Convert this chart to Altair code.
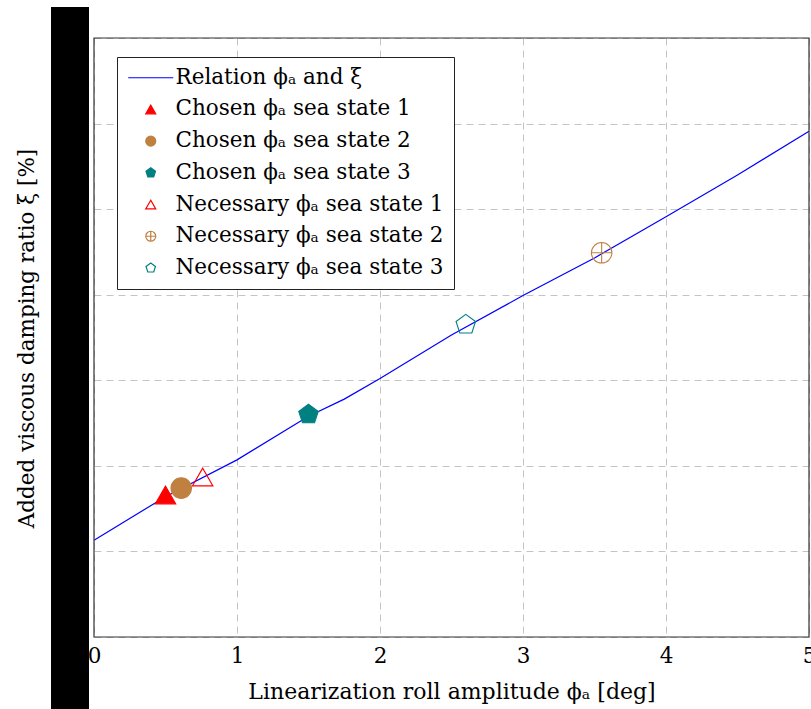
import altair as alt
import pandas as pd

# ---- data ----
series_names = [
    "Relation ϕₐ and ξ",
    "Chosen ϕₐ sea state 1",
    "Chosen ϕₐ sea state 2",
    "Chosen ϕₐ sea state 3",
    "Necessary ϕₐ sea state 1",
    "Necessary ϕₐ sea state 2",
    "Necessary ϕₐ sea state 3",
]
series_colors = ["#0000ff", "#ff0000", "#bf8040", "#008080", "#ff0000", "#bf8040", "#008080"]
series_fills = ["transparent", "#ff0000", "#bf8040", "#008080", "transparent", "transparent", "transparent"]

pent = "M0,-1L0.951,-0.309L0.588,0.809L-0.588,0.809L-0.951,-0.309Z"
oplus = "M-1,0A1,1,0,1,1,1,0A1,1,0,1,1,-1,0ZM-1,0L1,0M0,-1L0,1"
line_sym = "M-4.5,0L4.5,0"
series_shapes = [line_sym, "triangle-up", "circle", pent, "triangle-up", oplus, pent]

# relation curve
rel_x = [0, 0.5, 1.0, 1.5, 1.75, 2.0, 2.5, 3.0, 3.5, 4.0, 4.5, 5.0]
rel_y = [1.13, 1.64, 2.07, 2.58, 2.78, 3.02, 3.53, 3.99, 4.43, 4.91, 5.40, 5.91]

# markers
pt_series = series_names[1:]
pt_x = [0.50, 0.61, 1.50, 0.76, 3.55, 2.60]
pt_y = [1.66, 1.74, 2.60, 1.87, 4.49, 3.65]

x_ticks = [0, 1, 2, 3, 4, 5]
y_ticks = [0, 1, 2, 3, 4, 5, 6, 7]

FONT = "DejaVu Serif"
FS = 21.5

W, H = 715, 599

line_df = pd.DataFrame({"x": rel_x, "y": rel_y, "s": series_names[0]})
pt_df = pd.DataFrame({"x": pt_x, "y": pt_y, "s": pt_series})
one_df = pd.DataFrame({"k": [0]})

xs = alt.Scale(domain=[0, 5], nice=False, zero=False)
ys = alt.Scale(domain=[0, 7], nice=False, zero=False)

xax = alt.Axis(
    values=x_ticks, format="d", grid=True, gridDash=[7, 5], gridColor="#c4c4c4",
    domain=False, ticks=False, labelFont=FONT, labelFontSize=FS, labelColor="black",
    labelPadding=8, labelBaseline="top", labelFlush=False,
    title="Linearization roll amplitude ϕₐ [deg]", titleFont=FONT, titleFontSize=22,
    titleFontWeight="normal", titleColor="black", titleBaseline="alphabetic", titleY=61,
)
yax = alt.Axis(
    values=y_ticks, grid=True, gridDash=[7, 5], gridColor="#c4c4c4",
    domain=False, ticks=False, labels=False,
    title="Added viscous damping ratio ξ [%]", titleFont=FONT, titleFontSize=FS,
    titleFontWeight="normal", titleColor="black", titleBaseline="alphabetic",
    titleX=-61, titleY=300, titleAlign="center", titleAngle=270,
)

legend = alt.Legend(
    title=None, orient="none", legendX=23, legendY=19,
    labelFont=FONT, labelFontSize=FS, labelColor="black", labelLimit=400,
    symbolSize=100, symbolStrokeWidth=1.2, symbolOffset=13, labelOffset=14,
    padding=10, rowPadding=8.7, strokeColor="#222222", fillColor="white",
    values=series_names,
)

stroke_scale = alt.Scale(domain=series_names, range=series_colors)
fill_scale = alt.Scale(domain=series_names, range=series_fills)
shape_scale = alt.Scale(domain=series_names, range=series_shapes)

line = alt.Chart(line_df).mark_line(strokeWidth=1.2).encode(
    x=alt.X("x:Q", scale=xs, axis=xax),
    y=alt.Y("y:Q", scale=ys, axis=yax),
    stroke=alt.Stroke("s:N", scale=stroke_scale, legend=legend, sort=series_names),
)

pts = alt.Chart(pt_df).mark_point(size=420, strokeWidth=1.1, opacity=1).encode(
    x=alt.X("x:Q", scale=xs),
    y=alt.Y("y:Q", scale=ys),
    stroke=alt.Stroke("s:N", scale=stroke_scale, legend=legend, sort=series_names),
    fill=alt.Fill("s:N", scale=fill_scale, legend=legend, sort=series_names),
    shape=alt.Shape("s:N", scale=shape_scale, legend=legend, sort=series_names),
)

frame = alt.Chart(one_df).mark_rect(fillOpacity=0, stroke="#333333", strokeWidth=1.2).encode(
    x=alt.value(0), x2=alt.value(W), y=alt.value(0), y2=alt.value(H)
)

bar = alt.Chart(one_df).mark_rect(color="black").encode(
    x=alt.value(-43), x2=alt.value(-5), y=alt.value(-31), y2=alt.value(671)
)

chart = (
    alt.layer(line, pts, frame, bar)
    .properties(
        width=W, height=H,
        autosize=alt.AutoSizeParams(type="none"),
        padding={"left": 94, "top": 38, "right": 2, "bottom": 72},
        background="white",
    )
    .configure_view(stroke=None)
)

chart.save("out.html", embed_options={"renderer": "svg", "actions": False})
